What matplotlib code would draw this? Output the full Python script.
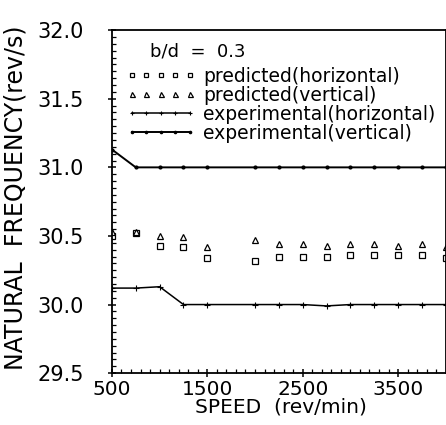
import matplotlib
matplotlib.use("Agg")
import matplotlib.pyplot as plt
from matplotlib.ticker import MultipleLocator, FixedLocator, FormatStrFormatter

speed = [500, 750, 1000, 1250, 1500, 2000, 2250, 2500, 2750, 3000, 3250, 3500, 3750, 4000]
pred_h = [30.50, 30.52, 30.43, 30.42, 30.34, 30.32, 30.35, 30.35, 30.35, 30.36, 30.36, 30.36, 30.36, 30.34]
pred_v = [30.53, 30.53, 30.50, 30.49, 30.42, 30.47, 30.44, 30.44, 30.43, 30.44, 30.44, 30.43, 30.44, 30.42]
exp_h = [30.12, 30.12, 30.13, 30.00, 30.00, 30.00, 30.00, 30.00, 29.99, 30.00, 30.00, 30.00, 30.00, 30.00]
exp_v = [31.13, 31.00, 31.00, 31.00, 31.00, 31.00, 31.00, 31.00, 31.00, 31.00, 31.00, 31.00, 31.00, 31.00]

x_ticks = [500, 1500, 2500, 3500]
y_ticks = [29.5, 30.0, 30.5, 31.0, 31.5, 32.0]

plt.rcParams['font.family'] = 'DejaVu Sans'
fig = plt.figure(figsize=(4.46, 4.25), dpi=100)
ax = fig.add_axes([0.251, 0.122, 0.7485, 0.807])

ax.plot(speed, pred_h, linestyle='none', marker='s', ms=4, mfc='white', mec='black', mew=0.9,
        label='predicted(horizontal)')
ax.plot(speed, pred_v, linestyle='none', marker='^', ms=4.5, mfc='white', mec='black', mew=0.9,
        label='predicted(vertical)')
ax.plot(speed, exp_h, color='black', lw=1.1, marker='+', ms=4, mew=0.8,
        label='experimental(horizontal)')
ax.plot(speed, exp_v, color='black', lw=1.4, marker='.', ms=4,
        label='experimental(vertical)')

ax.set_xlim(500, 4000)
ax.set_ylim(29.5, 32.0)
ax.xaxis.set_major_locator(FixedLocator(x_ticks))
ax.yaxis.set_major_locator(FixedLocator(y_ticks))
ax.yaxis.set_major_formatter(FormatStrFormatter('%.1f'))
ax.xaxis.set_minor_locator(MultipleLocator(100))
ax.yaxis.set_minor_locator(MultipleLocator(0.05))
ax.tick_params(which='major', direction='inout', length=6, width=1.1, labelsize=15)
ax.tick_params(axis='y', which='major', pad=17)
ax.tick_params(axis='x', which='major', pad=2, labelsize=14.5)
ax.tick_params(which='minor', direction='in', length=3, width=0.9)
for s in ax.spines.values():
    s.set_linewidth(1.3)

ax.set_xlabel('SPEED  (rev/min)', fontsize=14.5, va='center')
ax.xaxis.set_label_coords(0.505, -0.1)
ax.set_ylabel('NATURAL  FREQUENCY(rev/s)', fontsize=17, va='center')
ax.yaxis.set_label_coords(-0.29, 0.51)

ax.text(0.115, 0.965, 'b/d  =  0.3', transform=ax.transAxes, fontsize=13, va='top')
ax.legend(loc='upper left', bbox_to_anchor=(0.02, 0.915), frameon=False, numpoints=5,
          fontsize=13.5, handlelength=3.7, handletextpad=0.4, labelspacing=0.0,
          borderpad=0.2, borderaxespad=0.2, markerscale=0.8)

fig.savefig('out.png', dpi=100)
